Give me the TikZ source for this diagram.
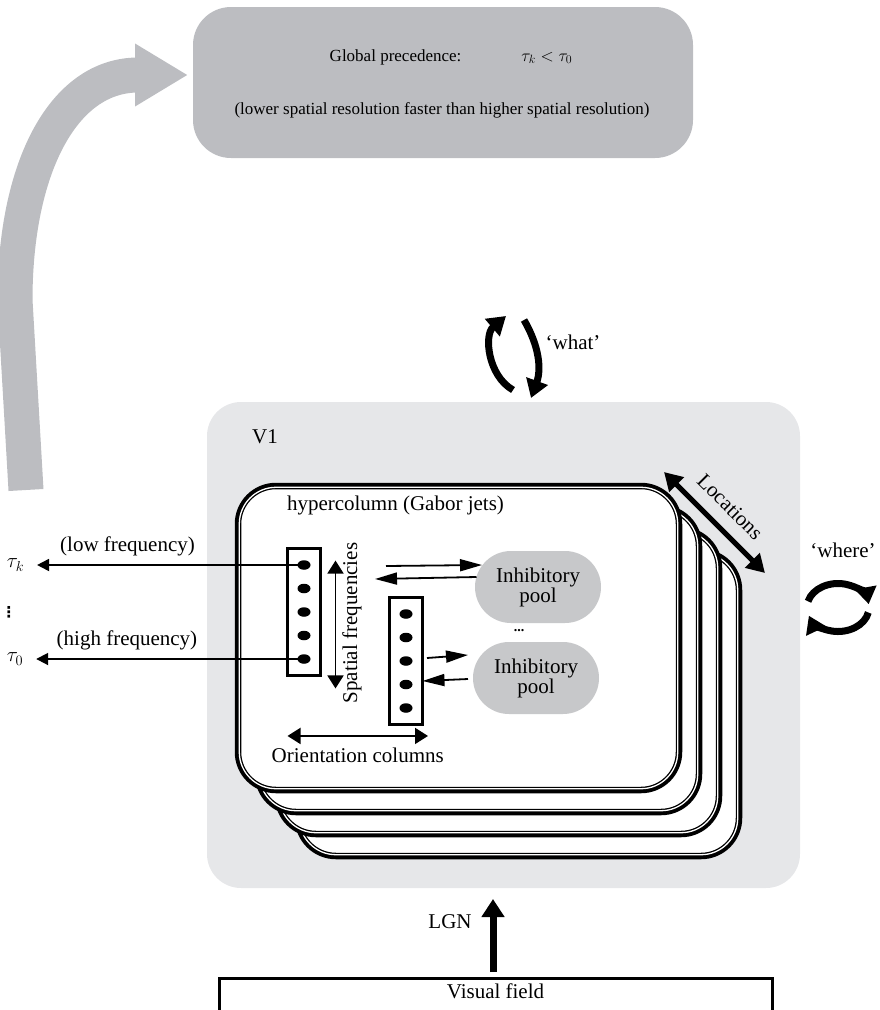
\documentclass[tikz,border=0pt]{standalone}
\usepackage{fontspec}
\setmainfont{Liberation Serif}
\newfontfamily\symbolfont{DejaVu Sans}
\usetikzlibrary{calc,arrows.meta,positioning,chains,fit,shapes.geometric}
\definecolor{precgray}{RGB}{188,189,193}
\definecolor{vonegray}{RGB}{230,231,233}
\definecolor{poolgray}{RGB}{199,200,202}
\tikzset{lbl/.style={inner sep=2pt, outer sep=0pt, font=\fontsize{21}{20}\selectfont}, smalllbl/.style={inner sep=2pt, outer sep=0pt, font=\fontsize{17}{20}\selectfont}, precbox/.style={fill=precgray, rounded corners=38pt, minimum width=500pt, minimum height=151pt, outer sep=0pt}, vonebox/.style={fill=vonegray, rounded corners=34pt, minimum width=593pt, minimum height=486pt, outer sep=0pt}, hcard/.style={draw=black, fill=white, line width=6.5pt, rounded corners=38pt, minimum width=441pt, minimum height=304pt, inner sep=0pt, outer sep=0pt}, hcardline/.style={draw=white, line width=1.3pt, rounded corners=36.7pt, minimum width=438.4pt, minimum height=301.4pt, inner sep=0pt, outer sep=0pt}, celldot/.style={ellipse, fill=black, minimum width=13pt, minimum height=9.5pt, inner sep=0pt, outer sep=0pt, on chain}, colbox/.style={draw, line width=3.3pt, inner xsep=10pt, inner ysep=11.7pt, outer sep=0pt}, pool/.style={lbl, fill=poolgray, rounded corners=36pt, minimum width=126pt, minimum height=72pt, align=center}, vfbox/.style={lbl, draw, line width=3pt, anchor=north, minimum width=553pt, inner ysep=6pt, text depth=40pt}, grayarrow/.style={draw=precgray, line width=35pt, -{Triangle[length=53pt,width=59pt]}}, heavyarrow/.style={line width=7pt, -{Triangle[length=18pt,width=22pt]}}, looparrow/.style={line width=7pt, -{Triangle[length=17pt,width=21pt]}}, locarrow/.style={line width=5pt, {Triangle[length=18pt,width=20pt]}-{Triangle[length=18pt,width=20pt]}}, axisarrow/.style={line width=1.8pt, {Triangle[length=13pt,width=16pt]}-{Triangle[length=13pt,width=16pt]}}, poolarrow/.style={line width=1.8pt, -{Triangle[length=22pt,width=12pt]}}, freqarrow/.style={line width=1.8pt, shorten >=11pt, -{Triangle[length=12pt,width=12pt]}}}

\begin{document}
\begin{tikzpicture}[x=1pt, y=1pt]
    \useasboundingbox (0,0) rectangle (880,-1010);
    \coordinate (globstart) at (26,-490);
    \node[precbox] (prec) at (443,-82.5) {};
    \node[smalllbl] (precA) at (451,-57) {Global precedence:\hspace{60pt}$\tau_k < \tau_0$};
    \node[smalllbl] (precB) at (442,-110) {(lower spatial resolution faster than higher spatial resolution)};
    \draw[grayarrow] (globstart) -- (15,-300) .. controls (15,-170) and (62,-75) .. ($(prec.west)+(-5,7.5)$);
    \coordinate (whatA) at (513,-390);
    \coordinate (whatB) at (506,-316);
    \coordinate (whatC) at (524,-320);
    \coordinate (whatD) at (531,-398);
    \draw[heavyarrow] (whatA) to[bend left=55] (whatB);
    \draw[heavyarrow] (whatC) to[bend left=25] (whatD);
    \node[lbl] (whatlbl) at (573,-342) {‘what’};
    \node[vonebox] (vone) at (503.5,-645) {};
    \node[lbl] (vonelbl) at (265,-437) {V1};
    \node[hcard] (hc4) at (518.5,-704) {};
    \node[hcardline] (hc4in) at (hc4) {};
    \node[hcard] (hc3) at ($(hc4)+(-20,22)$) {};
    \node[hcardline] (hc3in) at (hc3) {};
    \node[hcard] (hc2) at ($(hc3)+(-20,22)$) {};
    \node[hcardline] (hc2in) at (hc2) {};
    \node[hcard] (hc1) at ($(hc2)+(-20,22)$) {};
    \node[hcardline] (hc1in) at (hc1) {};
    \node[lbl, anchor=west] (hctitle) at (285,-505) {hypercolumn (Gabor jets)};
    \begin{scope}[start chain=colA going below, node distance=14pt]
        \node[celldot] (d11) at (304,-565) {};
        \node[celldot] (d12) {};
        \node[celldot] (d13) {};
        \node[celldot] (d14) {};
        \node[celldot] (d15) {};
    \end{scope}
    \begin{scope}[start chain=colB going below, node distance=14pt]
        \node[celldot] (d21) at (406,-614) {};
        \node[celldot] (d22) {};
        \node[celldot] (d23) {};
        \node[celldot] (d24) {};
        \node[celldot] (d25) {};
    \end{scope}
    \node[colbox, fit=(d11)(d15)] (colA) {};
    \node[colbox, fit=(d21)(d25)] (colB) {};
    \draw[axisarrow] ($(colA.north east)+(15,-12)$) -- ($(colA.south east)+(15,-13)$);
    \node[lbl, rotate=90] (sflbl) at ($(colA.east)+(31.5,-11)$) {Spatial frequencies};
    \draw[axisarrow] ($(colA.west |- colB.south)+(0,-11.5)$) -- ($(colB.south east)+(5.5,-11.5)$) node[lbl, midway, yshift=-19pt] (ocollbl) {Orientation columns};
    \node[pool] (poolA) at (538,-587) {Inhibitory\\pool};
    \node[lbl, font=\fontsize{14}{14}\selectfont\bfseries] (pooldots) at (519,-631) {...};
    \node[pool] (poolB) at (536,-678) {Inhibitory\\pool};
    \draw[poolarrow] ($(poolA.west)+(-89,21)$) -- ($(poolA.west)+(7,22)$);
    \draw[poolarrow] ($(poolA.west)+(1.5,10)$) -- ($(poolA.west)+(-100,8)$);
    \draw[poolarrow] ($(poolB.west)+(-46,20)$) -- ($(poolB.west)+(-5,23)$);
    \draw[poolarrow] ($(poolB.west)+(-5,-1)$) -- ($(colB.east |- poolB.west)+(0,-3)$);
    \node[lbl] (tauk) at (15.5,-565) {$\tau_k$};
    \node[lbl, font=\symbolfont\fontsize{15}{15}\selectfont\bfseries] (taudots) at (9,-612) {⋮};
    \node[lbl] (tauz) at (15,-659) {$\tau_0$};
    \draw[freqarrow] (d11.center) -- (tauk.east) node[lbl, pos=0.635, yshift=19pt] (lowlbl) {(low frequency)};
    \draw[freqarrow] (d15.center) -- (tauz.east) node[lbl, pos=0.635, yshift=19pt] (highlbl) {(high frequency)};
    \draw[locarrow] ($(hc1.north east)+(-15,14)$) -- ($(hc1.north east)+(86,-87)$) node[lbl, midway, sloped, above=13pt] (loclbl) {Locations};
    \coordinate (whereC) at (838,-607.5);
    \draw[looparrow] ($(whereC)+(165:31 and 24)$) arc[start angle=165, end angle=8, x radius=31, y radius=24];
    \draw[looparrow] ($(whereC)+(-12:31 and 24)$) arc[start angle=-12, end angle=-160, x radius=31, y radius=24];
    \node[lbl] (wherelbl) at (843,-550) {‘where’};
    \node[vfbox] (vfield) at (495.5,-978) {Visual field};
    \draw[heavyarrow] ($(vfield.north)+(-2.5,6)$) -- ($(vfield.north |- vone.south)+(-2.5,-11)$);
    \node[lbl] (lgnlbl) at (450,-922) {LGN};
\end{tikzpicture}
\end{document}
